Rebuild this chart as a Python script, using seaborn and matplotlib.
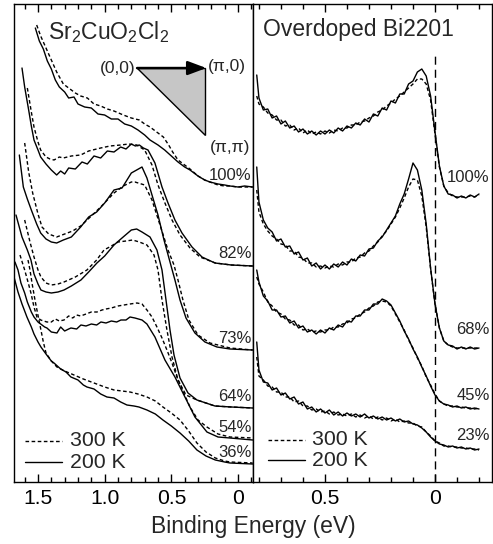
import matplotlib
matplotlib.use("Agg")
import matplotlib.pyplot as plt
from matplotlib.patches import Polygon
from matplotlib.ticker import MultipleLocator, FixedLocator
import seaborn as sns

# ---- Sr2CuO2Cl2 (left panel): binding energy (eV) vs offset intensity (arb.)
sr_labels = ["100%", "82%", "73%", "64%", "54%", "36%"]

sr100_e_200 = [1.52, 1.49, 1.46, 1.43, 1.40, 1.37, 1.34, 1.30, 1.27, 1.23, 1.20, 1.15, 1.10, 1.05, 1.00, 0.95, 0.90, 0.85, 0.80, 0.75, 0.70, 0.66, 0.60, 0.55, 0.50, 0.45, 0.40, 0.36, 0.30, 0.25, 0.21, 0.15, 0.10, 0.06, 0.0, -0.05, -0.11]
sr100_i_200 = [454, 441, 433, 421, 413, 402, 395, 390, 384, 385, 378, 375, 374, 368, 367, 363, 363, 358, 356, 352, 347, 342, 337, 332, 326, 320, 315, 312, 306, 302, 300, 298, 297, 296, 295, 296, 295]
sr100_e_300 = [1.51, 1.48, 1.45, 1.42, 1.40, 1.36, 1.31, 1.27, 1.22, 1.18, 1.13, 1.08, 1.03, 0.98, 0.93, 0.86, 0.80, 0.74, 0.70, 0.66, 0.61, 0.56, 0.52, 0.49, 0.45, 0.40, 0.36, 0.30, 0.25, 0.21, 0.15, 0.10, 0.06, 0.0, -0.05, -0.11]
sr100_i_300 = [457, 446, 437, 428, 422, 410, 398, 394, 389, 386, 384, 378, 376, 373, 371, 367, 364, 362, 358, 355, 350, 345, 337, 330, 322, 317, 313, 306, 302, 300, 297, 296, 296, 295, 295, 295]

sr82_e_200 = [1.62, 1.60, 1.57, 1.55, 1.53, 1.50, 1.48, 1.44, 1.40, 1.36, 1.33, 1.30, 1.27, 1.22, 1.17, 1.13, 1.08, 1.03, 0.98, 0.93, 0.88, 0.84, 0.80, 0.77, 0.74, 0.71, 0.675, 0.623, 0.57, 0.525, 0.473, 0.42, 0.345, 0.27, 0.173, 0.05, -0.11]
sr82_i_200 = [414, 395, 372, 356, 342, 332, 325, 318, 312, 307, 311, 308, 314, 313, 320, 318, 326, 324, 331, 330, 335, 333, 338, 336, 337, 334, 332, 319, 295, 279, 262, 249, 235, 225, 219, 217, 216]
sr82_e_300 = [1.58, 1.55, 1.53, 1.50, 1.48, 1.44, 1.41, 1.38, 1.34, 1.31, 1.25, 1.18, 1.12, 1.03, 0.96, 0.88, 0.82, 0.76, 0.70, 0.645, 0.60, 0.548, 0.495, 0.435, 0.36, 0.285, 0.17, 0.05, -0.11]
sr82_i_300 = [394, 370, 355, 340, 332, 325, 323, 322, 325, 324, 326, 327, 331, 334, 336, 337, 338, 337, 332, 317, 297, 279, 262, 247, 234, 225, 219, 217, 216]

sr73_e_200 = [1.64, 1.61, 1.58, 1.55, 1.51, 1.48, 1.44, 1.40, 1.36, 1.31, 1.25, 1.18, 1.12, 1.06, 1.00, 0.93, 0.87, 0.80, 0.76, 0.72, 0.683, 0.645, 0.60, 0.555, 0.51, 0.473, 0.435, 0.39, 0.323, 0.248, 0.158, 0.06, -0.11]
sr73_i_200 = [327, 295, 283, 272, 258, 249, 243, 240, 239, 242, 245, 255, 265, 270, 279, 292, 294, 309, 312, 315, 304, 287, 267, 242, 220, 202, 182, 164, 149, 140, 135, 133, 132]
sr73_e_300 = [1.60, 1.57, 1.54, 1.50, 1.47, 1.42, 1.36, 1.30, 1.24, 1.18, 1.10, 1.03, 0.93, 0.86, 0.80, 0.773, 0.70, 0.645, 0.585, 0.525, 0.48, 0.45, 0.413, 0.368, 0.30, 0.21, 0.06, -0.11]
sr73_i_300 = [339, 310, 289, 268, 255, 248, 245, 248, 251, 256, 266, 275, 289, 296, 300, 300, 297, 282, 257, 232, 217, 202, 182, 162, 147, 139, 134, 132]

sr64_e_200 = [1.665, 1.62, 1.58, 1.553, 1.53, 1.50, 1.478, 1.44, 1.40, 1.35, 1.305, 1.25, 1.178, 1.12, 1.058, 1.00, 0.93, 0.87, 0.80, 0.76, 0.72, 0.66, 0.608, 0.57, 0.54, 0.51, 0.48, 0.435, 0.375, 0.308, 0.173, 0.05, -0.11]
sr64_i_200 = [267, 245, 232, 222, 208, 198, 192, 190, 189, 190, 192, 196, 202, 210, 219, 226, 237, 244, 252, 253, 250, 245, 232, 212, 182, 152, 127, 104, 89, 82, 76, 75, 74]
sr64_e_300 = [1.60, 1.56, 1.53, 1.50, 1.478, 1.44, 1.40, 1.35, 1.305, 1.22, 1.133, 1.06, 1.005, 0.95, 0.90, 0.84, 0.79, 0.74, 0.683, 0.63, 0.60, 0.57, 0.533, 0.495, 0.45, 0.39, 0.308, 0.173, 0.05, -0.11]
sr64_i_300 = [262, 240, 225, 212, 205, 199, 197, 198, 200, 205, 212, 222, 232, 236, 240, 241, 242, 240, 237, 227, 212, 182, 152, 125, 102, 87, 82, 76, 75, 74]

sr54_e_200 = [1.673, 1.65, 1.628, 1.60, 1.58, 1.55, 1.53, 1.50, 1.48, 1.45, 1.433, 1.40, 1.358, 1.33, 1.30, 1.27, 1.253, 1.21, 1.178, 1.14, 1.10, 1.06, 1.028, 0.99, 0.95, 0.91, 0.878, 0.84, 0.81, 0.773, 0.72, 0.683, 0.623, 0.548, 0.473, 0.398, 0.323, 0.233, 0.15, 0.06, -0.11]
sr54_i_200 = [220, 212, 199, 189, 180, 170, 165, 160, 158, 155, 154, 150, 149, 155, 151, 153, 154, 153, 157, 156, 158, 157, 160, 159, 161, 160, 162, 162, 165, 164, 162, 158, 145, 122, 105, 85, 65, 50, 45, 44, 42]
sr54_e_300 = [1.635, 1.60, 1.575, 1.553, 1.53, 1.508, 1.48, 1.433, 1.40, 1.37, 1.34, 1.305, 1.27, 1.24, 1.21, 1.18, 1.14, 1.10, 1.058, 1.02, 0.99, 0.95, 0.90, 0.855, 0.81, 0.758, 0.72, 0.683, 0.645, 0.608, 0.57, 0.533, 0.495, 0.458, 0.41, 0.36, 0.30, 0.233, 0.15, 0.06, -0.11]
sr54_i_300 = [227, 212, 200, 189, 175, 165, 162, 160, 160, 163, 161, 162, 166, 164, 167, 166, 168, 170, 170, 172, 173, 174, 176, 177, 178, 179, 178, 172, 165, 155, 144, 132, 119, 105, 90, 75, 62, 55, 48, 45, 44]

sr36_e_200 = [1.68, 1.65, 1.62, 1.583, 1.55, 1.53, 1.50, 1.478, 1.44, 1.40, 1.38, 1.33, 1.29, 1.253, 1.20, 1.16, 1.133, 1.08, 1.03, 0.983, 0.93, 0.88, 0.833, 0.78, 0.743, 0.683, 0.62, 0.563, 0.50, 0.435, 0.37, 0.308, 0.24, 0.17, 0.10, 0.06, -0.11]
sr36_i_200 = [205, 190, 178, 165, 155, 148, 140, 135, 128, 121, 119, 113, 110, 105, 102, 97, 95, 93, 88, 85, 84, 80, 77, 76, 75, 72, 68, 62, 56, 49, 41, 32, 26, 22, 20, 19, 18]
sr36_e_300 = [1.575, 1.56, 1.545, 1.52, 1.49, 1.46, 1.44, 1.40, 1.358, 1.30, 1.23, 1.16, 1.08, 1.00, 0.93, 0.87, 0.81, 0.75, 0.683, 0.62, 0.563, 0.50, 0.435, 0.37, 0.308, 0.24, 0.17, 0.10, 0.06, -0.11]
sr36_i_300 = [222, 212, 199, 180, 160, 140, 129, 121, 115, 111, 107, 103, 99, 95, 92, 91, 90, 88, 85, 81, 75, 69, 62, 51, 39, 30, 24, 21, 20, 19]

# ---- Overdoped Bi2201 (right panel), all spectra on one energy grid
bi_labels = ["100%", "68%", "45%", "23%"]
bi_e = [0.81, 0.80, 0.78, 0.76, 0.74, 0.72, 0.70, 0.68, 0.66, 0.64, 0.62, 0.60, 0.58, 0.56, 0.54, 0.52, 0.50, 0.48, 0.46, 0.44, 0.42, 0.40, 0.38, 0.36, 0.34, 0.32, 0.30, 0.28, 0.26, 0.24, 0.22, 0.20, 0.18, 0.16, 0.14, 0.12, 0.10, 0.08, 0.06, 0.04, 0.02, 0.00, -0.02, -0.04, -0.06, -0.08, -0.10, -0.12, -0.14, -0.16, -0.18, -0.20]

bi100_200 = [407, 384, 372, 373, 364, 366, 358, 361, 354, 356, 350, 353, 348, 351, 347, 351, 348, 352, 349, 354, 351, 356, 354, 359, 357, 363, 360, 368, 366, 374, 372, 381, 379, 388, 388, 398, 401, 410, 413, 406, 386, 350, 316, 296, 288, 287, 284, 286, 284, 287, 285, 288]
bi100_300 = [386, 378, 375, 369, 367, 362, 362, 356, 357, 352, 354, 349, 352, 348, 350, 348, 351, 349, 352, 351, 354, 354, 357, 357, 360, 361, 364, 366, 370, 372, 376, 379, 383, 386, 390, 394, 398, 403, 403, 398, 382, 348, 315, 296, 289, 286, 285, 285, 285, 286, 285, 287]

bi68_200 = [315, 280, 262, 254, 250, 241, 243, 235, 236, 228, 230, 222, 224, 216, 219, 213, 217, 213, 218, 215, 220, 217, 223, 221, 227, 226, 233, 234, 241, 245, 252, 259, 266, 278, 288, 303, 319, 312, 292, 258, 214, 178, 154, 141, 137, 136, 133, 135, 133, 135, 133, 134]
bi68_300 = [292, 270, 258, 251, 246, 243, 238, 237, 231, 231, 225, 224, 219, 219, 215, 216, 214, 216, 215, 218, 217, 220, 220, 224, 225, 229, 231, 236, 240, 246, 251, 258, 265, 274, 284, 295, 303, 302, 286, 255, 213, 178, 154, 141, 137, 135, 134, 134, 134, 134, 134, 134]

bi45_200 = [212, 200, 186, 181, 172, 172, 165, 166, 159, 161, 154, 156, 150, 152, 148, 152, 149, 154, 152, 157, 155, 161, 160, 166, 166, 172, 172, 178, 178, 183, 181, 177, 169, 161, 151, 143, 133, 125, 115, 106, 96, 87, 81, 78, 77, 75, 76, 74, 75, 73, 74, 73]
bi45_300 = [205, 198, 190, 180, 176, 170, 168, 163, 162, 157, 157, 152, 153, 150, 151, 150, 152, 152, 155, 155, 158, 159, 163, 164, 168, 170, 174, 176, 180, 181, 180, 176, 168, 160, 152, 142, 134, 124, 116, 105, 97, 88, 81, 78, 76, 76, 75, 75, 74, 74, 73, 74]

bi23_200 = [140, 112, 100, 99, 92, 94, 87, 89, 83, 85, 78, 80, 73, 75, 70, 73, 69, 72, 67, 70, 66, 69, 66, 68, 65, 68, 64, 66, 63, 65, 62, 64, 61, 63, 60, 61, 58, 57, 54, 50, 45, 41, 38, 37, 35, 36, 34, 35, 33, 34, 32, 33]
bi23_300 = [125, 106, 102, 96, 95, 90, 90, 85, 85, 80, 81, 76, 76, 72, 73, 70, 71, 68, 70, 67, 68, 66, 68, 65, 67, 64, 66, 63, 65, 62, 64, 61, 63, 60, 61, 59, 59, 56, 55, 50, 46, 41, 39, 36, 36, 35, 35, 34, 34, 33, 33, 32]

sns.set_theme(style="ticks")
plt.rcParams["font.family"] = ["Liberation Sans", "DejaVu Sans"]
plt.rcParams["mathtext.default"] = "regular"

DASH = (0, (2.6, 1.8))
FS_BIG = 16.5
FS_TICK = 15.2
FS_LEG = 15.3

fig = plt.figure(figsize=(4.93, 5.44), dpi=100)
axl = fig.add_axes([14 / 493, 62 / 544, 239 / 493, 478 / 544])
axr = fig.add_axes([253 / 493, 62 / 544, 239 / 493, 478 / 544])


def spectrum(ax, e, i, dashed):
    sns.lineplot(x=e, y=i, ax=ax, color="black", lw=1.0,
                 linestyle=DASH if dashed else "-", estimator=None, sort=False)


left_sets = [
    (sr100_e_200, sr100_i_200, sr100_e_300, sr100_i_300),
    (sr82_e_200, sr82_i_200, sr82_e_300, sr82_i_300),
    (sr73_e_200, sr73_i_200, sr73_e_300, sr73_i_300),
    (sr64_e_200, sr64_i_200, sr64_e_300, sr64_i_300),
    (sr54_e_200, sr54_i_200, sr54_e_300, sr54_i_300),
    (sr36_e_200, sr36_i_200, sr36_e_300, sr36_i_300),
]
for e2, i2, e3, i3 in left_sets:
    spectrum(axl, e3, i3, True)
    spectrum(axl, e2, i2, False)

for i2, i3 in [(bi100_200, bi100_300), (bi68_200, bi68_300),
               (bi45_200, bi45_300), (bi23_200, bi23_300)]:
    spectrum(axr, bi_e, i3, True)
    spectrum(axr, bi_e, i2, False)

axr.axvline(0, ymin=0, ymax=0.90, color="black", lw=1.0, linestyle=(0, (5.8, 3.6)))

axl.set_xlim(1.68, -0.1125)
axr.set_xlim(0.827, -0.259)
for ax in (axl, axr):
    ax.set_ylim(0, 478)
    ax.set_yticks([])
    ax.set_ylabel("")
    ax.xaxis.set_minor_locator(MultipleLocator(0.1))
    ax.tick_params(axis="x", which="both", direction="in", top=True, bottom=True,
                   width=1.0, colors="black", labelsize=FS_TICK, pad=5)
    ax.tick_params(axis="x", which="major", length=6)
    ax.tick_params(axis="x", which="minor", length=3.5)
    for s in ax.spines.values():
        s.set_linewidth(1.0)
        s.set_color("black")
    ax.set_facecolor("white")

axl.xaxis.set_major_locator(FixedLocator([1.5, 1.0, 0.5, 0.0]))
axl.set_xticklabels(["1.5", "1.0", "0.5", "0"])
axr.xaxis.set_major_locator(FixedLocator([0.5, 0.0]))
axr.set_xticklabels(["0.5", "0"])

# panel titles
axl.text(0.142, 0.941, r"Sr$_2$CuO$_2$Cl$_2$", transform=axl.transAxes, fontsize=FS_BIG, va="center", ha="left")
axr.text(0.042, 0.946, "Overdoped Bi2201", transform=axr.transAxes, fontsize=FS_BIG, va="center", ha="left")

# doping labels
for lab, fy in zip(sr_labels, [0.642, 0.479, 0.301, 0.178, 0.113, 0.061]):
    axl.text(0.995, fy, lab, transform=axl.transAxes, fontsize=12, ha="right", va="center")
for lab, fy in zip(bi_labels, [0.638, 0.318, 0.182, 0.098]):
    axr.text(0.99, fy, lab, transform=axr.transAxes, fontsize=12, ha="right", va="center")

# temperature keys
for ax, x0, x1, xt, ys in [(axl, 0.046, 0.201, 0.234, (0.0858, 0.0418)),
                           (axr, 0.063, 0.218, 0.247, (0.0879, 0.046))]:
    ax.plot([x0, x1], [ys[0]] * 2, transform=ax.transAxes, color="black", lw=1.0, linestyle=DASH)
    ax.plot([x0, x1], [ys[1]] * 2, transform=ax.transAxes, color="black", lw=1.0)
    ax.text(xt, ys[0], "300 K", transform=ax.transAxes, fontsize=FS_LEG, va="center")
    ax.text(xt, ys[1], "200 K", transform=ax.transAxes, fontsize=FS_LEG, va="center")

# Brillouin-zone inset
tri = Polygon([(0.515, 0.866), (0.80, 0.866), (0.80, 0.726)], closed=True,
              transform=axl.transAxes, facecolor="#c6c6c6", edgecolor="black", lw=1.0)
axl.add_patch(tri)
axl.annotate("", xy=(0.805, 0.866), xytext=(0.515, 0.866), xycoords="axes fraction",
             arrowprops=dict(arrowstyle="-|>,head_length=0.75,head_width=0.28",
                             lw=1.8, color="black", mutation_scale=15, shrinkA=0, shrinkB=0))
axl.text(0.508, 0.866, "(0,0)", transform=axl.transAxes, fontsize=12.5, ha="right", va="center")
axl.text(0.812, 0.870, "(π,0)", transform=axl.transAxes, fontsize=12.5, ha="left", va="center")
axl.text(0.818, 0.700, "(π,π)", transform=axl.transAxes, fontsize=12.5, ha="left", va="center")

fig.text(253 / 493, 17 / 544, "Binding Energy (eV)", fontsize=FS_BIG, ha="center", va="center")

fig.savefig("out.png", dpi=100, facecolor="white")
